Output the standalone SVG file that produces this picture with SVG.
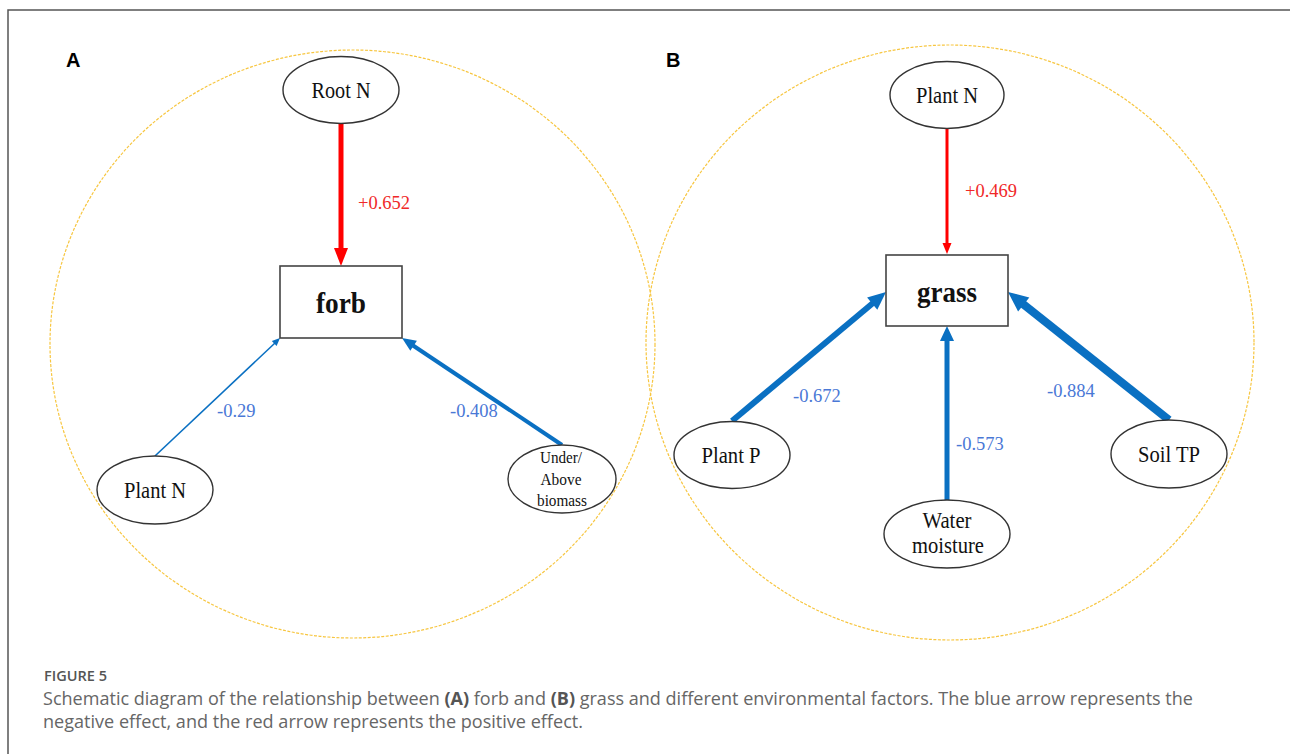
<svg xmlns="http://www.w3.org/2000/svg" width="1290" height="754" viewBox="0 0 1290 754">
<style>
  .frame{fill:none;stroke:#555;stroke-width:1.5}
  .zone{fill:none;stroke:#F7C640;stroke-width:1.2;stroke-dasharray:3 1.5}
  .node{fill:#fff;stroke:#333;stroke-width:1.4}
  .box{fill:#fff;stroke:#444;stroke-width:1.6}
  .lbl{font-family:"Liberation Serif","Times New Roman",serif;font-size:23px;fill:#111;text-anchor:middle}
  .small{font-size:16px}
  .main{font-family:"Liberation Serif","Times New Roman",serif;font-size:30px;font-weight:bold;fill:#111;text-anchor:middle}
  .neg{stroke:#0A70C2;fill:none}
  .pos{stroke:#FF0000;fill:none}
  .negh{fill:#0A70C2}
  .posh{fill:#FF0000}
  .nlab{font-family:"Liberation Serif","Times New Roman",serif;font-size:18.5px;fill:#4A78D6}
  .plab{font-family:"Liberation Serif","Times New Roman",serif;font-size:18.5px;fill:#F02828}
  .panel{font-family:"Liberation Sans",Arial,sans-serif;font-size:20px;font-weight:bold;fill:#000}
  .cap{font-family:"Open Sans","Liberation Sans",sans-serif;font-size:18px;fill:#666}
  .fig{font-family:"Open Sans","Liberation Sans",sans-serif;font-size:15px;font-weight:600;fill:#555}
</style>
<rect width="1290" height="754" fill="#fff"/>
<path class="frame" d="M8,754 V10 H1290"/>

<g id="zones">
  <ellipse class="zone" cx="352.5" cy="344" rx="302.5" ry="294"/>
  <ellipse class="zone" cx="950" cy="342.5" rx="304" ry="297.5"/>
</g>

<text class="panel" x="66" y="67">A</text>
<text class="panel" x="666" y="67">B</text>

<g id="connectors">
  <!-- A: Root N -> forb -->
  <line class="pos" x1="341" y1="123" x2="341" y2="250" stroke-width="5"/>
  <polygon class="posh" points="341,266 334,248 348,248"/>
  <text class="plab" x="358" y="209">+0.652</text>
  <!-- A: Plant N -> forb -->
  <line class="neg" x1="155" y1="456" x2="275" y2="343" stroke-width="1.6"/>
  <polygon class="negh" points="280,338 276.6,346 271.8,341"/>
  <text class="nlab" x="217" y="417">-0.29</text>
  <!-- A: Under/Above -> forb -->
  <line class="neg" x1="562" y1="445" x2="413" y2="345.5" stroke-width="4"/>
  <polygon class="negh" points="402,338 416.9,340.8 410.3,350.8"/>
  <text class="nlab" x="450" y="417">-0.408</text>

  <!-- B: Plant N -> grass -->
  <line class="pos" x1="947" y1="128" x2="947" y2="246" stroke-width="3"/>
  <polygon class="posh" points="947,254 942.5,243 951.5,243"/>
  <text class="plab" x="965" y="197">+0.469</text>
  <!-- B: Plant P -> grass -->
  <line class="neg" x1="732" y1="421" x2="873" y2="303" stroke-width="6"/>
  <polygon class="negh" points="886,292 877.3,309.7 867.1,297.5"/>
  <text class="nlab" x="793" y="402">-0.672</text>
  <!-- B: Water moisture -> grass -->
  <line class="neg" x1="947" y1="500" x2="947" y2="339" stroke-width="5"/>
  <polygon class="negh" points="947,326 940,341 954,341"/>
  <text class="nlab" x="956" y="450">-0.573</text>
  <!-- B: Soil TP -> grass -->
  <line class="neg" x1="1169" y1="420" x2="1023" y2="304" stroke-width="8"/>
  <polygon class="negh" points="1008,292 1029.3,297.4 1018.1,311.5"/>
  <text class="nlab" x="1047" y="397">-0.884</text>
</g>

<g id="forb">
  <rect class="box" x="280" y="266" width="122" height="72"/>
  <text class="main" x="341" y="313" textLength="50" lengthAdjust="spacingAndGlyphs">forb</text>
</g>
<g id="rootN">
  <ellipse class="node" cx="341" cy="90" rx="58" ry="33.5"/>
  <text class="lbl" x="341" y="98" textLength="59" lengthAdjust="spacingAndGlyphs">Root N</text>
</g>
<g id="plantN-A">
  <ellipse class="node" cx="155" cy="490" rx="58" ry="34"/>
  <text class="lbl" x="155" y="498" textLength="62" lengthAdjust="spacingAndGlyphs">Plant N</text>
</g>
<g id="biomass">
  <ellipse class="node" cx="562" cy="479" rx="54" ry="34"/>
  <text class="lbl small" x="561" y="463" textLength="42" lengthAdjust="spacingAndGlyphs">Under/</text>
  <text class="lbl small" x="561" y="485" textLength="41" lengthAdjust="spacingAndGlyphs">Above</text>
  <text class="lbl small" x="562" y="506" textLength="50" lengthAdjust="spacingAndGlyphs">biomass</text>
</g>

<g id="grass">
  <rect class="box" x="886" y="255" width="122" height="71"/>
  <text class="main" x="947" y="302" textLength="60" lengthAdjust="spacingAndGlyphs">grass</text>
</g>
<g id="plantN-B">
  <ellipse class="node" cx="947" cy="95" rx="57" ry="33.5"/>
  <text class="lbl" x="947" y="103" textLength="62" lengthAdjust="spacingAndGlyphs">Plant N</text>
</g>
<g id="plantP">
  <ellipse class="node" cx="732" cy="455" rx="58" ry="33.5"/>
  <text class="lbl" x="731" y="463" textLength="59" lengthAdjust="spacingAndGlyphs">Plant P</text>
</g>
<g id="water">
  <ellipse class="node" cx="947" cy="534" rx="63" ry="34"/>
  <text class="lbl" x="947" y="528" textLength="49" lengthAdjust="spacingAndGlyphs">Water</text>
  <text class="lbl" x="948" y="553" textLength="72" lengthAdjust="spacingAndGlyphs">moisture</text>
</g>
<g id="soilTP">
  <ellipse class="node" cx="1169" cy="454" rx="58" ry="34"/>
  <text class="lbl" x="1169" y="462" textLength="62" lengthAdjust="spacingAndGlyphs">Soil TP</text>
</g>

<g id="caption">
  <text class="fig" x="44" y="681" textLength="63" lengthAdjust="spacingAndGlyphs">FIGURE 5</text>
  <text class="cap" x="43" y="705" textLength="1150" lengthAdjust="spacingAndGlyphs">Schematic diagram of the relationship between <tspan font-weight="bold" fill="#555">(A)</tspan> forb and <tspan font-weight="bold" fill="#555">(B)</tspan> grass and different environmental factors. The blue arrow represents the</text>
  <text class="cap" x="43" y="728" textLength="540" lengthAdjust="spacingAndGlyphs">negative effect, and the red arrow represents the positive effect.</text>
</g>
</svg>
